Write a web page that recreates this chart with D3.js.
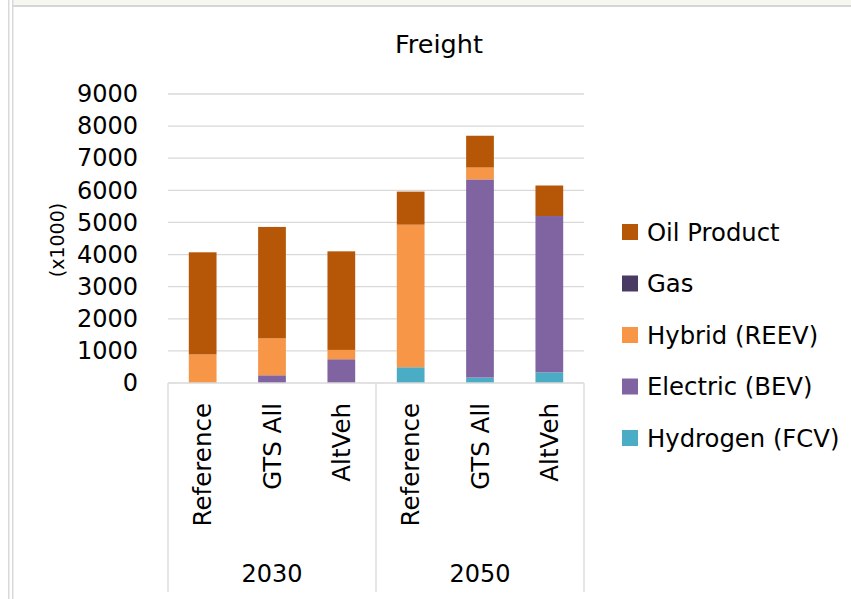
<!DOCTYPE html>
<html>
<head>
<meta charset="utf-8">
<script src="https://cdn.jsdelivr.net/npm/d3@7"></script>
<style>
  html, body { margin: 0; padding: 0; background: #ffffff; }
  svg { display: block; font-family: "DejaVu Sans", sans-serif; }
</style>
</head>
<body>
<svg id="chart" width="851" height="599"></svg>
<script>
// Freight fleet by drivetrain, thousands of vehicles
const years = ["2030", "2050"];
const scenarios = ["Reference", "GTS All", "AltVeh"];
const seriesNames = ["Hydrogen (FCV)", "Electric (BEV)", "Hybrid (REEV)", "Gas", "Oil Product"];
const seriesColors = ["#4BACC6", "#8064A2", "#F79646", "#4A3A63", "#B65708"];
const legendOrder = ["Oil Product", "Gas", "Hybrid (REEV)", "Electric (BEV)", "Hydrogen (FCV)"];

// one value per bar, in order 2030 Reference, GTS All, AltVeh, 2050 Reference, GTS All, AltVeh
const hydrogen = [0, 0, 0, 490, 170, 330];
const electric = [0, 240, 740, 0, 6170, 4870];
const hybrid   = [890, 1150, 290, 4440, 370, 0];
const gas      = [0, 0, 0, 0, 0, 0];
const oil      = [3180, 3470, 3070, 1030, 990, 950];

const yTicks = [0, 1000, 2000, 3000, 4000, 5000, 6000, 7000, 8000, 9000];

const rows = [];
years.forEach((yr, gi) => scenarios.forEach((sc, si) => {
  const i = gi * scenarios.length + si;
  rows.push({
    key: yr + "|" + sc, year: yr, scenario: sc,
    "Hydrogen (FCV)": hydrogen[i], "Electric (BEV)": electric[i],
    "Hybrid (REEV)": hybrid[i], "Gas": gas[i], "Oil Product": oil[i]
  });
}));

const svg = d3.select("#chart");
const color = d3.scaleOrdinal(seriesNames, seriesColors);

// window frame
svg.append("rect").attr("x", 12).attr("y", 0).attr("width", 839).attr("height", 5).attr("fill", "#f7f7f2");
svg.append("rect").attr("x", 12).attr("y", 5).attr("width", 839).attr("height", 2).attr("fill", "#d6d6d6");
svg.append("rect").attr("x", 8).attr("y", 0).attr("width", 1.5).attr("height", 599).attr("fill", "#d9d9d9");
svg.append("rect").attr("x", 12).attr("y", 0).attr("width", 1.5).attr("height", 599).attr("fill", "#d9d9d9");

const plot = { left: 168, right: 584, top: 94, bottom: 383 };

const x = d3.scaleBand()
  .domain(rows.map(d => d.key))
  .range([plot.left, plot.right])
  .paddingInner(0.6)
  .paddingOuter(0.3);

const y = d3.scaleLinear().domain([0, 9000]).range([plot.bottom, plot.top]);

// gridlines
svg.append("g")
  .selectAll("line")
  .data(yTicks.filter(t => t > 0))
  .join("line")
  .attr("x1", plot.left).attr("x2", plot.right)
  .attr("y1", d => y(d)).attr("y2", d => y(d))
  .attr("stroke", "#d9d9d9").attr("stroke-width", 1.3);

// y axis labels
const yAxis = d3.axisLeft(y).tickValues(yTicks).tickSize(0).tickPadding(0).tickFormat(d3.format("d"));
const yg = svg.append("g").attr("transform", `translate(${plot.left - 30},0)`).call(yAxis);
yg.select(".domain").remove();
yg.selectAll("text").attr("font-size", 24).attr("fill", "#000").attr("font-family", "DejaVu Sans, sans-serif");

// axis title
svg.append("text")
  .attr("transform", "translate(57,240) rotate(-90)")
  .attr("text-anchor", "middle").attr("dy", "0.35em")
  .attr("font-size", 19).attr("fill", "#000")
  .text("(x1000)");

// stacked bars
const stack = d3.stack().keys(seriesNames);
const layers = stack(rows);
svg.append("g")
  .selectAll("g")
  .data(layers)
  .join("g")
  .attr("fill", d => color(d.key))
  .selectAll("rect")
  .data(d => d.filter(p => p[1] > p[0]))
  .join("rect")
  .attr("x", d => x(d.data.key))
  .attr("width", x.bandwidth())
  .attr("y", d => y(d[1]))
  .attr("height", d => y(d[0]) - y(d[1]));

// category axis: baseline and group separators
svg.append("line")
  .attr("x1", plot.left).attr("x2", plot.right)
  .attr("y1", plot.bottom).attr("y2", plot.bottom)
  .attr("stroke", "#d9d9d9").attr("stroke-width", 1.3);

const groupWidth = (plot.right - plot.left) / years.length;
const sepX = d3.range(years.length + 1).map(i => plot.left + i * groupWidth);
svg.append("g")
  .selectAll("line")
  .data(sepX)
  .join("line")
  .attr("x1", d => d).attr("x2", d => d)
  .attr("y1", plot.bottom).attr("y2", 592)
  .attr("stroke", "#d9d9d9").attr("stroke-width", 1.3);

// scenario labels
svg.append("g")
  .selectAll("text")
  .data(rows)
  .join("text")
  .attr("transform", d => `translate(${x(d.key) + x.bandwidth() / 2},403) rotate(-90)`)
  .attr("text-anchor", "end").attr("dy", "0.36em")
  .attr("font-size", 24.5).attr("fill", "#000")
  .text(d => d.scenario);

// year labels
svg.append("g")
  .selectAll("text")
  .data(years)
  .join("text")
  .attr("x", (d, i) => plot.left + (i + 0.5) * groupWidth)
  .attr("y", 582)
  .attr("text-anchor", "middle")
  .attr("font-size", 24).attr("fill", "#000")
  .text(d => d);

// title
svg.append("text")
  .attr("x", 439).attr("y", 53)
  .attr("text-anchor", "middle")
  .attr("font-size", 25.5).attr("fill", "#000")
  .text("Freight");

// legend
const legend = svg.append("g")
  .selectAll("g")
  .data(legendOrder)
  .join("g")
  .attr("transform", (d, i) => `translate(622,${232 + i * 51.5})`);
legend.append("rect")
  .attr("x", 0).attr("y", -8).attr("width", 16).attr("height", 16)
  .attr("fill", d => color(d));
legend.append("text")
  .attr("x", 25).attr("dy", "0.36em")
  .attr("font-size", 24.3).attr("fill", "#000")
  .text(d => d);
</script>
</body>
</html>
